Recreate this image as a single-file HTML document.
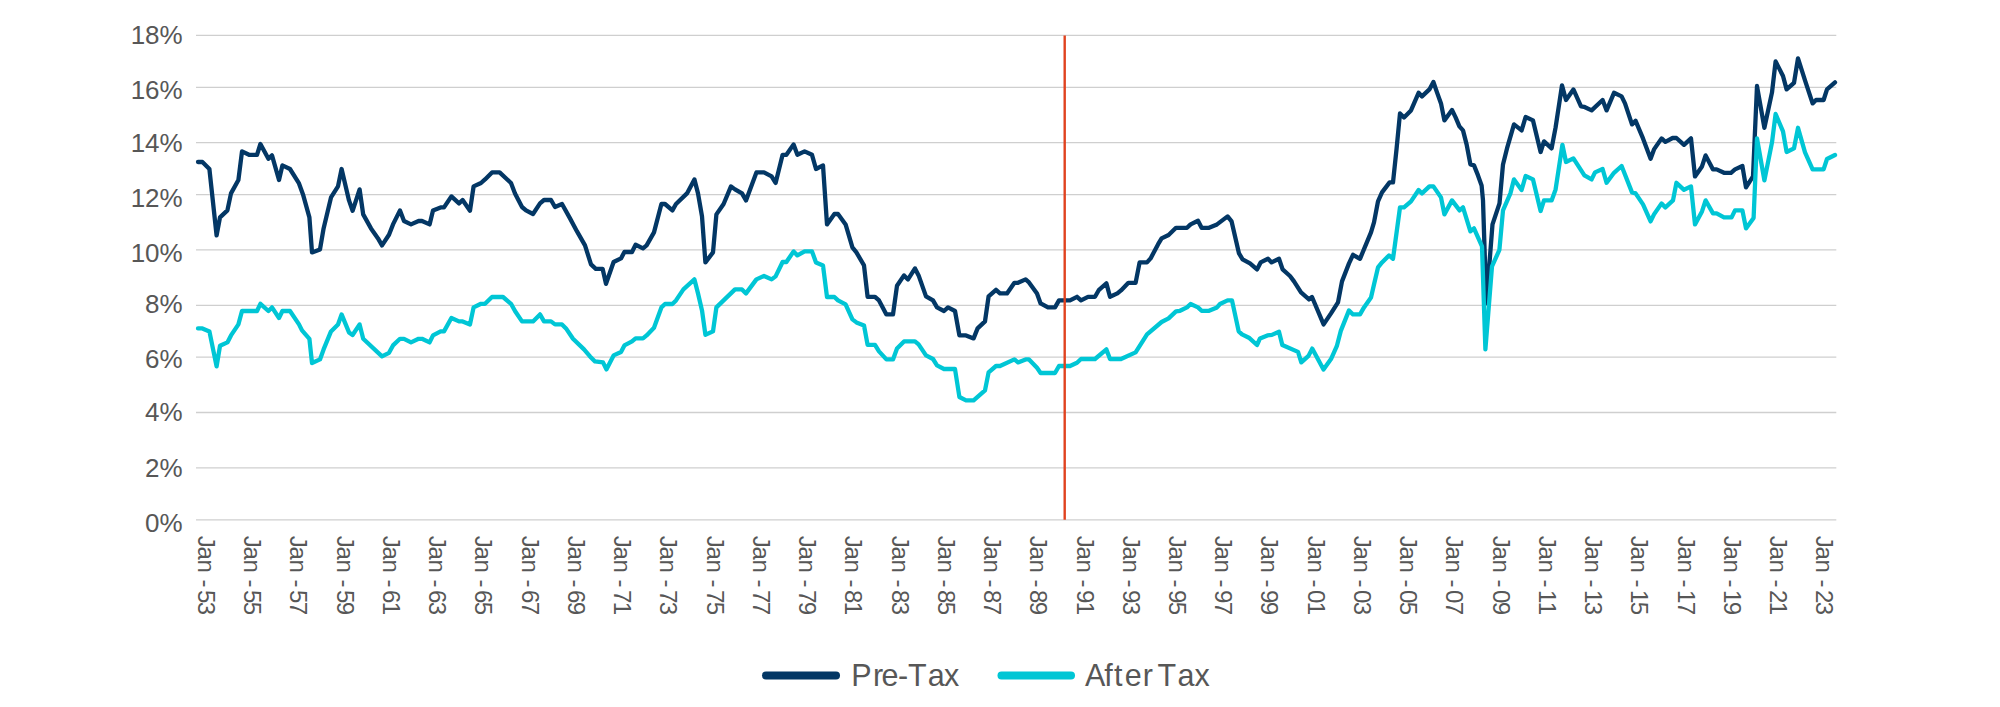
<!DOCTYPE html>
<html><head><meta charset="utf-8"><title>Pre-Tax vs After Tax</title>
<style>html,body{margin:0;padding:0;background:#fff}svg{display:block}text{font-family:"Liberation Sans",sans-serif;fill:#575757}</style></head><body>
<svg width="2000" height="707" viewBox="0 0 2000 707">
<rect width="2000" height="707" fill="#fff"/>
<g stroke="#cfcfcf" stroke-width="1.3">
<line x1="196" y1="35.4" x2="1836.3" y2="35.4"/>
<line x1="196" y1="87.3" x2="1836.3" y2="87.3"/>
<line x1="196" y1="142.7" x2="1836.3" y2="142.7"/>
<line x1="196" y1="194.6" x2="1836.3" y2="194.6"/>
<line x1="196" y1="249.9" x2="1836.3" y2="249.9"/>
<line x1="196" y1="305.3" x2="1836.3" y2="305.3"/>
<line x1="196" y1="357.2" x2="1836.3" y2="357.2"/>
<line x1="196" y1="412.5" x2="1836.3" y2="412.5"/>
<line x1="196" y1="467.9" x2="1836.3" y2="467.9"/>
<line x1="196" y1="519.8" x2="1836.3" y2="519.8"/>
</g>
<g font-size="26" text-anchor="end">
<text x="182.7" y="44.2">18%</text>
<text x="182.7" y="98.9">16%</text>
<text x="182.7" y="151.8">14%</text>
<text x="182.7" y="206.7">12%</text>
<text x="182.7" y="262.0">10%</text>
<text x="182.7" y="312.8">8%</text>
<text x="182.7" y="368.2">6%</text>
<text x="182.7" y="420.8">4%</text>
<text x="182.7" y="476.8">2%</text>
<text x="182.7" y="531.6">0%</text>
</g>
<polyline fill="none" stroke="#033765" stroke-width="4.3" stroke-linejoin="round" stroke-linecap="round" points="198.0,162.0 202.4,162.0 209.4,169.0 216.6,235.4 220.0,217.4 227.4,210.4 231.0,193.4 238.4,180.0 242.0,151.4 249.0,154.8 257.0,154.8 260.4,144.0 268.4,158.8 272.0,155.4 279.0,180.0 282.4,165.4 290.0,169.0 299.0,183.4 303.0,194.4 309.4,217.4 312.0,252.4 320.0,249.4 323.6,228.4 331.0,197.4 338.0,186.4 341.6,169.0 349.0,200.4 352.6,210.8 359.6,189.4 363.2,214.4 371.0,228.4 378.0,238.4 382.0,245.4 389.0,234.8 393.0,224.4 400.0,210.4 404.0,221.0 411.0,224.4 418.6,221.0 422.0,221.0 429.6,224.4 433.0,210.4 440.6,207.4 444.0,207.4 451.4,196.4 459.0,203.4 462.6,200.0 470.0,210.8 473.6,186.4 481.0,183.0 485.0,179.4 492.0,172.4 499.6,172.4 511.0,183.0 515.0,193.4 522.0,207.0 526.0,210.4 533.0,214.0 540.0,203.4 544.0,200.0 551.0,200.0 555.0,207.0 562.0,204.0 570.0,218.4 577.0,231.4 585.0,245.4 591.0,264.4 595.8,268.8 602.6,268.8 606.0,283.8 613.6,262.0 621.0,258.4 624.4,252.0 632.0,252.0 635.6,244.8 643.0,248.4 646.6,245.4 654.0,232.4 661.4,204.0 665.0,204.0 672.4,210.4 676.0,204.0 687.0,193.4 694.4,179.4 698.0,193.4 702.0,216.4 705.4,262.4 713.0,252.4 716.4,214.4 723.6,204.0 731.0,186.4 735.0,189.4 742.0,193.4 746.0,200.4 756.4,172.4 764.0,172.4 771.6,176.4 775.6,183.0 782.6,154.8 786.4,154.8 793.6,144.4 797.4,154.8 804.6,151.4 812.0,154.8 816.0,169.0 823.0,165.4 827.0,224.4 834.4,214.0 838.0,214.0 845.6,224.4 852.4,247.4 856.4,252.4 864.0,265.4 867.6,296.8 875.0,296.8 879.0,300.4 886.4,314.4 893.0,314.4 897.0,285.8 904.0,275.4 908.0,279.4 915.0,268.4 918.6,275.4 926.0,296.4 933.0,300.4 937.0,307.4 944.0,311.0 948.0,307.4 955.0,311.0 959.4,335.4 966.0,335.4 973.6,338.4 977.6,328.4 985.0,321.4 988.6,296.4 996.0,289.8 1000.0,293.4 1007.0,293.4 1014.4,282.8 1018.0,282.8 1025.6,279.4 1029.0,282.4 1037.0,293.4 1040.6,303.4 1048.0,307.4 1055.0,307.4 1059.0,300.4 1070.0,300.4 1077.0,296.8 1081.0,300.4 1088.0,296.8 1095.0,296.8 1099.0,289.8 1106.4,283.4 1110.0,296.8 1117.4,293.4 1121.0,290.4 1128.4,282.8 1135.6,282.8 1139.6,262.4 1147.0,262.4 1150.6,258.4 1158.0,244.4 1161.6,238.4 1168.6,235.0 1176.0,227.8 1187.0,227.8 1190.6,224.4 1198.0,220.8 1201.6,227.8 1209.0,227.8 1217.0,224.4 1227.6,216.4 1231.6,221.4 1239.0,253.4 1242.6,259.4 1250.0,263.4 1257.0,269.4 1260.6,262.4 1268.0,258.8 1271.6,262.4 1279.0,258.8 1282.6,269.4 1290.0,276.0 1294.0,281.4 1301.0,292.4 1309.0,299.4 1312.0,297.0 1323.6,324.4 1331.0,313.4 1338.0,302.4 1342.0,281.4 1349.0,263.4 1353.0,254.8 1360.0,258.8 1371.0,232.4 1374.0,222.4 1378.0,201.4 1382.0,192.4 1389.6,182.4 1393.0,182.4 1396.6,148.4 1400.0,113.4 1404.0,117.4 1411.0,110.4 1418.6,92.8 1422.0,96.4 1429.4,89.4 1433.4,82.0 1437.0,92.4 1441.0,103.4 1444.4,120.4 1452.0,110.0 1455.6,117.4 1459.4,126.4 1463.0,130.4 1466.6,144.4 1470.4,164.4 1474.0,165.4 1478.0,175.4 1481.6,185.4 1483.0,200.4 1486.3,303.4 1492.5,224.4 1499.5,203.4 1503.0,164.4 1507.0,148.4 1514.0,124.4 1521.6,130.4 1525.6,117.0 1533.0,120.4 1540.6,152.0 1544.0,141.4 1551.6,148.4 1555.6,127.4 1562.0,85.4 1566.0,100.0 1573.4,89.4 1581.0,106.4 1584.0,106.8 1591.6,110.4 1602.6,100.0 1606.6,110.4 1614.0,92.8 1621.6,96.4 1625.0,103.4 1632.0,124.4 1635.6,120.8 1643.0,138.4 1650.6,158.8 1654.0,149.4 1661.6,138.4 1665.4,141.8 1672.6,138.0 1676.4,138.0 1684.0,144.8 1691.0,138.4 1695.0,176.4 1702.0,166.4 1705.6,155.4 1713.0,169.4 1716.6,169.4 1724.0,172.8 1731.0,172.8 1735.0,169.4 1742.4,166.0 1746.0,187.4 1753.0,176.4 1757.0,86.0 1764.4,127.8 1772.0,92.4 1775.6,61.4 1783.0,76.0 1786.6,89.4 1794.0,82.8 1798.0,58.4 1805.0,80.4 1812.6,103.4 1816.0,100.0 1823.6,100.0 1827.0,89.4 1835.0,82.4"/>
<polyline fill="none" stroke="#00c6d5" stroke-width="4.3" stroke-linejoin="round" stroke-linecap="round" points="198.0,328.4 202.4,328.4 209.4,331.4 216.6,366.4 220.0,345.8 227.4,342.4 231.0,335.4 238.4,324.4 242.0,311.0 257.0,311.0 260.4,303.8 268.4,311.0 272.0,307.4 279.0,318.0 282.4,311.0 290.0,311.0 299.0,324.4 302.0,330.4 309.4,338.8 312.0,363.0 320.0,359.4 323.6,349.4 331.0,331.4 338.0,324.4 341.6,314.4 349.0,332.4 352.6,335.0 359.6,324.4 363.2,338.8 382.0,356.4 389.0,352.8 393.0,345.4 400.0,338.8 404.0,338.8 411.0,342.4 418.6,338.8 422.0,338.8 429.6,342.4 433.0,335.4 440.6,331.4 444.0,331.4 451.4,318.0 459.0,321.4 462.6,321.4 470.0,324.4 473.6,307.4 481.0,303.8 485.0,303.8 492.0,297.0 503.0,297.0 511.0,303.8 515.0,311.0 522.0,321.4 533.0,321.4 540.0,314.4 544.0,321.4 551.0,321.4 555.0,324.4 562.0,324.4 566.0,328.4 573.0,338.8 584.0,349.4 590.0,356.4 595.0,361.4 603.0,362.4 606.4,369.4 613.6,355.4 621.0,352.0 624.4,345.4 632.0,341.4 635.6,338.4 643.0,338.4 646.6,335.4 654.0,327.8 661.4,307.4 665.0,304.0 672.4,304.0 676.0,300.4 683.4,289.4 694.4,279.4 698.0,293.4 702.0,310.4 705.4,334.8 713.0,331.4 716.4,307.4 723.6,300.4 735.0,289.4 742.0,289.4 746.0,293.4 756.4,279.4 764.0,276.0 771.6,279.4 775.6,276.4 782.6,262.0 786.4,262.0 793.6,251.4 797.4,255.4 804.6,251.4 812.0,251.4 816.0,262.4 823.0,265.4 827.0,297.0 834.4,297.0 838.0,300.4 845.6,304.4 852.4,319.4 856.4,322.4 864.0,325.4 867.6,344.8 875.0,344.8 879.0,351.4 886.4,359.4 893.0,359.4 897.0,348.4 904.0,341.4 915.0,341.4 918.6,344.4 926.0,355.4 933.0,359.0 937.0,365.4 944.0,369.0 955.0,369.0 959.4,397.0 966.0,400.4 973.6,400.4 985.0,390.4 988.6,372.4 996.0,366.0 1000.0,366.0 1014.4,359.4 1018.0,362.4 1025.6,359.4 1029.0,359.4 1037.0,367.8 1040.6,373.0 1055.0,373.0 1059.0,366.0 1070.0,366.0 1077.0,362.8 1081.0,359.0 1095.0,359.0 1106.4,349.4 1110.0,359.0 1121.0,359.0 1135.6,352.4 1147.0,334.4 1161.6,322.0 1168.6,318.4 1176.0,311.4 1180.0,310.8 1187.0,307.4 1190.6,304.0 1198.0,307.4 1201.6,310.8 1209.0,310.8 1217.0,307.4 1220.0,304.0 1227.6,300.4 1232.0,300.4 1238.7,331.4 1242,334.4 1248.9,337.7 1257,345.0 1260,338.4 1267.4,335.4 1271.9,334.9 1279,331.7 1282.3,345.0 1298,351.9 1301.3,362.4 1308.5,355.9 1312.2,348.6 1323.5,369.6 1331,359.1 1336.8,346.2 1340.8,330.9 1349.0,310.4 1353.0,314.4 1360.0,314.4 1364.0,307.4 1371.0,297.4 1374.0,284.4 1378.0,267.4 1382.0,262.4 1389.0,255.4 1393.0,258.8 1400.0,207.4 1404.0,207.4 1411.0,201.4 1418.6,190.0 1422.0,193.4 1429.4,186.4 1433.4,186.4 1441.0,197.4 1444.4,214.4 1452.0,200.4 1459.6,210.4 1463.0,207.4 1470.4,231.4 1474.0,228.4 1482.0,246.4 1485.4,349.4 1492,266.4 1499.4,249.9 1503.0,210.4 1510.4,193.4 1514.0,179.4 1521.6,190.0 1525.6,176.0 1533.0,179.4 1540.6,211.0 1544.0,200.4 1551.6,200.4 1555.6,189.4 1562.4,144.8 1566.0,162.0 1573.4,158.4 1584.4,175.4 1591.6,179.4 1595.0,172.4 1602.6,169.0 1606.6,182.8 1614.0,172.8 1621.6,166.0 1632.0,192.4 1635.6,193.4 1643.0,204.4 1650.6,221.4 1654.0,214.4 1661.6,203.4 1665.4,207.4 1673.0,200.4 1676.4,182.8 1684.0,189.8 1691.0,186.4 1695.0,224.4 1702.0,211.4 1705.6,200.4 1713.0,213.4 1716.6,213.4 1724.0,217.4 1731.6,217.4 1735.0,210.4 1742.4,210.4 1746.0,228.4 1753.6,218.0 1757.0,138.4 1764.4,180.4 1772.0,142.4 1775.6,114.0 1783.0,131.4 1786.6,152.0 1794.0,148.4 1798.0,127.8 1805.0,152.4 1812.6,169.4 1823.6,169.4 1827.0,159.0 1835.0,155.0"/>
<line x1="1064.7" y1="35.4" x2="1064.7" y2="519.8" stroke="#e0421f" stroke-width="2.4"/>
<g font-size="24">
<text transform="translate(197.9,536.3) rotate(90)" x="-0.5 10.2 23.3 43.1 53.8 65.5" y="0">Jan-53</text>
<text transform="translate(244.1,536.3) rotate(90)" x="-0.5 10.2 23.3 43.1 53.8 65.5" y="0">Jan-55</text>
<text transform="translate(290.4,536.3) rotate(90)" x="-0.5 10.2 23.3 43.1 53.8 65.5" y="0">Jan-57</text>
<text transform="translate(336.6,536.3) rotate(90)" x="-0.5 10.2 23.3 43.1 53.8 65.5" y="0">Jan-59</text>
<text transform="translate(382.9,536.3) rotate(90)" x="-0.5 10.2 23.3 43.1 53.8 65.5" y="0">Jan-61</text>
<text transform="translate(429.1,536.3) rotate(90)" x="-0.5 10.2 23.3 43.1 53.8 65.5" y="0">Jan-63</text>
<text transform="translate(475.3,536.3) rotate(90)" x="-0.5 10.2 23.3 43.1 53.8 65.5" y="0">Jan-65</text>
<text transform="translate(521.6,536.3) rotate(90)" x="-0.5 10.2 23.3 43.1 53.8 65.5" y="0">Jan-67</text>
<text transform="translate(567.8,536.3) rotate(90)" x="-0.5 10.2 23.3 43.1 53.8 65.5" y="0">Jan-69</text>
<text transform="translate(614.1,536.3) rotate(90)" x="-0.5 10.2 23.3 43.1 53.8 65.5" y="0">Jan-71</text>
<text transform="translate(660.3,536.3) rotate(90)" x="-0.5 10.2 23.3 43.1 53.8 65.5" y="0">Jan-73</text>
<text transform="translate(706.5,536.3) rotate(90)" x="-0.5 10.2 23.3 43.1 53.8 65.5" y="0">Jan-75</text>
<text transform="translate(752.8,536.3) rotate(90)" x="-0.5 10.2 23.3 43.1 53.8 65.5" y="0">Jan-77</text>
<text transform="translate(799.0,536.3) rotate(90)" x="-0.5 10.2 23.3 43.1 53.8 65.5" y="0">Jan-79</text>
<text transform="translate(845.3,536.3) rotate(90)" x="-0.5 10.2 23.3 43.1 53.8 65.5" y="0">Jan-81</text>
<text transform="translate(891.5,536.3) rotate(90)" x="-0.5 10.2 23.3 43.1 53.8 65.5" y="0">Jan-83</text>
<text transform="translate(937.7,536.3) rotate(90)" x="-0.5 10.2 23.3 43.1 53.8 65.5" y="0">Jan-85</text>
<text transform="translate(984.0,536.3) rotate(90)" x="-0.5 10.2 23.3 43.1 53.8 65.5" y="0">Jan-87</text>
<text transform="translate(1030.2,536.3) rotate(90)" x="-0.5 10.2 23.3 43.1 53.8 65.5" y="0">Jan-89</text>
<text transform="translate(1076.5,536.3) rotate(90)" x="-0.5 10.2 23.3 43.1 53.8 65.5" y="0">Jan-91</text>
<text transform="translate(1122.7,536.3) rotate(90)" x="-0.5 10.2 23.3 43.1 53.8 65.5" y="0">Jan-93</text>
<text transform="translate(1168.9,536.3) rotate(90)" x="-0.5 10.2 23.3 43.1 53.8 65.5" y="0">Jan-95</text>
<text transform="translate(1215.2,536.3) rotate(90)" x="-0.5 10.2 23.3 43.1 53.8 65.5" y="0">Jan-97</text>
<text transform="translate(1261.4,536.3) rotate(90)" x="-0.5 10.2 23.3 43.1 53.8 65.5" y="0">Jan-99</text>
<text transform="translate(1307.7,536.3) rotate(90)" x="-0.5 10.2 23.3 43.1 53.8 65.5" y="0">Jan-01</text>
<text transform="translate(1353.9,536.3) rotate(90)" x="-0.5 10.2 23.3 43.1 53.8 65.5" y="0">Jan-03</text>
<text transform="translate(1400.1,536.3) rotate(90)" x="-0.5 10.2 23.3 43.1 53.8 65.5" y="0">Jan-05</text>
<text transform="translate(1446.4,536.3) rotate(90)" x="-0.5 10.2 23.3 43.1 53.8 65.5" y="0">Jan-07</text>
<text transform="translate(1492.6,536.3) rotate(90)" x="-0.5 10.2 23.3 43.1 53.8 65.5" y="0">Jan-09</text>
<text transform="translate(1538.9,536.3) rotate(90)" x="-0.5 10.2 23.3 43.1 53.8 65.5" y="0">Jan-11</text>
<text transform="translate(1585.1,536.3) rotate(90)" x="-0.5 10.2 23.3 43.1 53.8 65.5" y="0">Jan-13</text>
<text transform="translate(1631.3,536.3) rotate(90)" x="-0.5 10.2 23.3 43.1 53.8 65.5" y="0">Jan-15</text>
<text transform="translate(1677.6,536.3) rotate(90)" x="-0.5 10.2 23.3 43.1 53.8 65.5" y="0">Jan-17</text>
<text transform="translate(1723.8,536.3) rotate(90)" x="-0.5 10.2 23.3 43.1 53.8 65.5" y="0">Jan-19</text>
<text transform="translate(1770.1,536.3) rotate(90)" x="-0.5 10.2 23.3 43.1 53.8 65.5" y="0">Jan-21</text>
<text transform="translate(1816.3,536.3) rotate(90)" x="-0.5 10.2 23.3 43.1 53.8 65.5" y="0">Jan-23</text>
</g>
<line x1="766" y1="675.5" x2="836" y2="675.5" stroke="#033765" stroke-width="8" stroke-linecap="round"/>
<line x1="1001.5" y1="675.5" x2="1071" y2="675.5" stroke="#00c6d5" stroke-width="8" stroke-linecap="round"/>
<text font-size="30.5" y="685.9" x="851.2 873.05 881.55 898.1 907.9 927.7 944">Pre-Tax</text>
<text font-size="30.5" y="685.9" x="1085.1 1104.25 1113.9 1124.75 1142.75 1151 1157.5 1177.5 1194.6">After Tax</text>
</svg></body></html>
